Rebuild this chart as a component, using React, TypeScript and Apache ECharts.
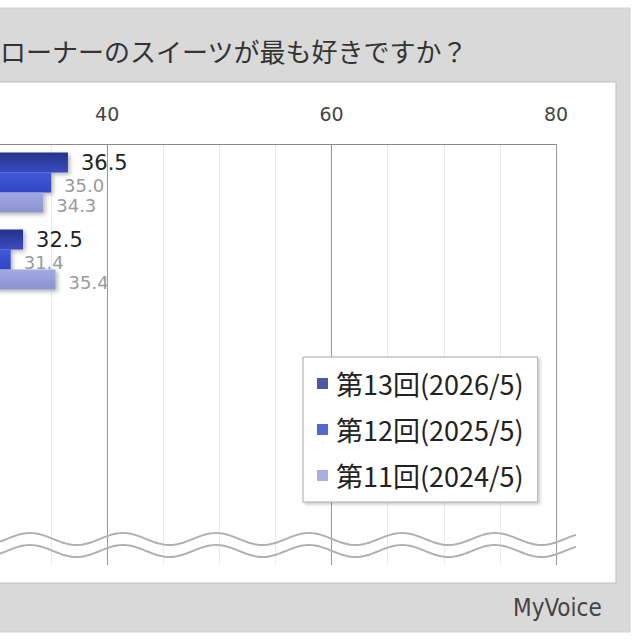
import React, { useEffect, useRef } from "react";
import * as echarts from "echarts";

const categories = ["項目1", "項目2"];
const seriesNames = ["第13回(2026/5)", "第12回(2025/5)", "第11回(2024/5)"];
const values13 = [36.5, 32.5];
const values12 = [35.0, 31.4];
const values11 = [34.3, 35.4];
const xTickLabels = [40, 60, 80];
const titleText = "ローナーのスイーツが最も好きですか？";

const OX = 20; // the chart canvas starts OX px left of the page edge

export default function App() {
  const ref = useRef<HTMLDivElement>(null);
  useEffect(() => {
    if (!ref.current) return;
    const chart = echarts.init(ref.current, null, { renderer: "svg" });

    const wave = (offset: number) => {
      const pts: number[][] = [];
      for (let x = 0; x <= 578; x += 3) {
        pts.push([x + OX, 539 + offset - 6 * Math.cos((2 * Math.PI * (x - 30)) / 93)]);
      }
      return pts;
    };

    const grad = (a: string, b: string) =>
      new echarts.graphic.LinearGradient(0, 0, 0, 1, [
        { offset: 0, color: a },
        { offset: 1, color: b },
      ]);

    const barShadow = {
      shadowBlur: 4,
      shadowColor: "rgba(0,0,0,0.3)",
      shadowOffsetX: 2,
      shadowOffsetY: 2,
    };

    const mkLabel = (big: boolean) => ({
      show: true,
      position: "right",
      distance: 13,
      fontFamily: "DejaVu Sans",
      fontSize: big ? 21 : 18,
      color: big ? "#222" : "#9a9a9a",
      formatter: (p: any) => Number(p.value).toFixed(1),
    });

    const xCommon = {
      type: "value",
      min: 30,
      max: 80,
      interval: 5,
    };
    const splitColors = ["#ececec", "#ececec", "#999999", "#ececec"];

    chart.setOption({
      animation: false,
      backgroundColor: "#ffffff",
      graphic: [
        {
          type: "rect",
          z: -10,
          shape: { x: 0, y: 8, width: 630 + OX, height: 624 },
          style: { fill: "#d9d9d9", stroke: "#cdcdcd", lineWidth: 1 },
        },
        {
          type: "rect",
          z: -9,
          shape: { x: 0, y: 82, width: 616 + OX, height: 501 },
          style: { fill: "#ffffff", stroke: "#bdbdbd", lineWidth: 1 },
        },
        {
          type: "text",
          z: 10,
          x: OX,
          y: 50,
          style: {
            text: titleText,
            fontSize: 26,
            fontFamily: "Noto Sans CJK JP",
            fill: "#333333",
            textVerticalAlign: "middle",
          },
        },
        {
          type: "polyline",
          z: 10,
          shape: { points: wave(0) },
          style: { stroke: "#b0b0b0", lineWidth: 2, fill: null },
        },
        {
          type: "polyline",
          z: 10,
          shape: { points: wave(12) },
          style: { stroke: "#b0b0b0", lineWidth: 2, fill: null },
        },
        {
          type: "text",
          z: 10,
          x: 513 + OX,
          y: 608,
          style: {
            text: "MyVoice",
            fontSize: 24,
            fontFamily: "Liberation Sans Narrow, DejaVu Sans Condensed, sans-serif",
            fill: "#444444",
            textVerticalAlign: "middle",
          },
        },
      ],
      legend: {
        orient: "vertical",
        left: 303 + OX,
        top: 357,
        itemWidth: 11,
        itemHeight: 11,
        itemGap: 19,
        padding: [13, 14, 13, 14],
        backgroundColor: "#ffffff",
        borderColor: "#a8a8a8",
        borderWidth: 1,
        shadowBlur: 3,
        shadowColor: "rgba(0,0,0,0.2)",
        shadowOffsetX: 2,
        shadowOffsetY: 2,
        textStyle: {
          fontSize: 27,
          lineHeight: 27,
          color: "#222",
          fontFamily: "Noto Sans CJK JP",
          padding: [0, 0, 0, 3],
        },
        data: [
          { name: seriesNames[0], icon: "rect", itemStyle: { color: "#4b58a6" } },
          { name: seriesNames[1], icon: "rect", itemStyle: { color: "#5468cf" } },
          { name: seriesNames[2], icon: "rect", itemStyle: { color: "#a9afe0" } },
        ],
      },
      grid: [
        { left: OX - 5, right: 84, top: 144, height: 154 },
        { left: OX - 5, right: 84, top: 298, height: 267 },
      ],
      xAxis: [
        {
          ...xCommon,
          gridIndex: 0,
          position: "top",
          axisLine: { show: true, lineStyle: { color: "#8a8a8a", width: 1 } },
          axisTick: { show: false },
          axisLabel: {
            margin: 21,
            fontSize: 19,
            color: "#444",
            fontFamily: "DejaVu Sans",
            formatter: (v: number) => (xTickLabels.includes(v) ? String(v) : ""),
          },
          splitLine: { show: true, lineStyle: { color: splitColors, width: 1 } },
        },
        {
          ...xCommon,
          gridIndex: 1,
          position: "top",
          axisLine: { show: false },
          axisTick: { show: false },
          axisLabel: { show: false },
          splitLine: { show: true, lineStyle: { color: splitColors, width: 1 } },
        },
      ],
      yAxis: [
        {
          type: "category",
          gridIndex: 0,
          inverse: true,
          data: categories,
          axisLine: { show: false },
          axisTick: { show: false },
          axisLabel: { show: false },
        },
        {
          type: "value",
          gridIndex: 1,
          show: false,
          splitLine: { show: false },
        },
      ],
      series: [
        {
          name: seriesNames[0],
          type: "bar",
          xAxisIndex: 0,
          yAxisIndex: 0,
          data: values13,
          barWidth: 20,
          barGap: "0%",
          itemStyle: { color: grad("#25318a", "#3a4cc0"), ...barShadow },
          label: mkLabel(true),
        },
        {
          name: seriesNames[1],
          type: "bar",
          xAxisIndex: 0,
          yAxisIndex: 0,
          data: values12,
          barWidth: 20,
          barGap: "0%",
          itemStyle: { color: grad("#4259d8", "#2f46c4"), ...barShadow },
          label: { ...mkLabel(false), offset: [0, 3] },
        },
        {
          name: seriesNames[2],
          type: "bar",
          xAxisIndex: 0,
          yAxisIndex: 0,
          data: values11,
          barWidth: 20,
          barGap: "0%",
          itemStyle: { color: grad("#a3aae2", "#8a92d0"), ...barShadow },
          label: { ...mkLabel(false), offset: [0, 3] },
        },
      ],
    });
    return () => chart.dispose();
  }, []);
  return (
    <div
      ref={ref}
      style={{ position: "absolute", left: -OX, top: 0, width: 640 + OX, height: 640 }}
    />
  );
}
